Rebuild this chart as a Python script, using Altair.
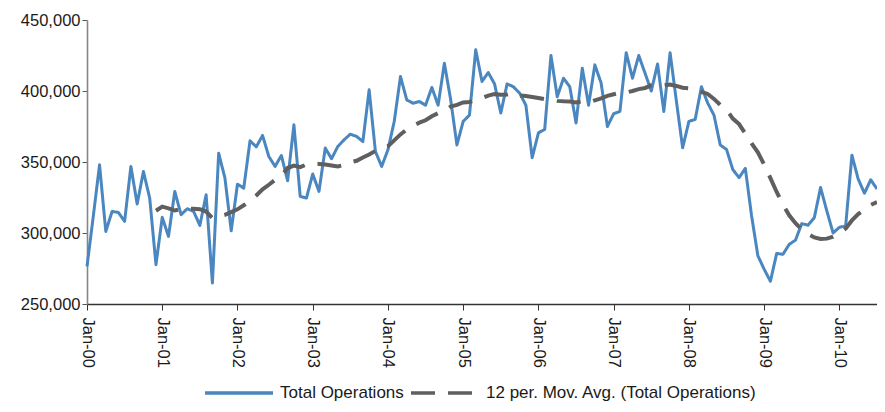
import altair as alt
import pandas as pd

# ---- data ----
month_names = ["Jan", "Feb", "Mar", "Apr", "May", "Jun",
               "Jul", "Aug", "Sep", "Oct", "Nov", "Dec"]
year_codes = ["00", "01", "02", "03", "04", "05", "06", "07", "08", "09", "10"]

ops_2000 = [276500, 311700, 348000, 301100, 315200, 314500, 308200, 346900, 320400, 343300, 324600, 277700]
ops_2001 = [311000, 297600, 329300, 312900, 317100, 315200, 305400, 326900, 264800, 356200, 338700, 301600]
ops_2002 = [334400, 331600, 364900, 360700, 368700, 353900, 346900, 354600, 336800, 376200, 325800, 324600]
ops_2003 = [341500, 329300, 359800, 352300, 360900, 365600, 369600, 368000, 364400, 400800, 357400, 346900]
ops_2004 = [358600, 378500, 410200, 393700, 391400, 392600, 390000, 402500, 390000, 419600, 394000, 362000]
ops_2005 = [378600, 383000, 429000, 406700, 413000, 405000, 384500, 405000, 403000, 398500, 390000, 353000]
ops_2006 = [370500, 373000, 425000, 396000, 409000, 403000, 377500, 416000, 390000, 418400, 405600, 375000]
ops_2007 = [384000, 385600, 427000, 409000, 425000, 412600, 400000, 419000, 385600, 427000, 393000, 360000]
ops_2008 = [378600, 380000, 403000, 391500, 383000, 362000, 358800, 344700, 339000, 345500, 312000, 284000]
ops_2009 = [274500, 266000, 285600, 285000, 292000, 295000, 306600, 305500, 310800, 332000, 315500, 300000]
ops_2010 = [304000, 305000, 354800, 338000, 328000, 337500, 331000]

total_operations = (ops_2000 + ops_2001 + ops_2002 + ops_2003 + ops_2004 + ops_2005
                    + ops_2006 + ops_2007 + ops_2008 + ops_2009 + ops_2010)
periods = [f"{m}-{y}" for y in year_codes for m in month_names][:len(total_operations)]
jan_ticks = [p for p in periods if p.startswith("Jan")]
y_ticks = [250000, 300000, 350000, 400000, 450000]

TOT = "Total Operations"
MA = "12 per. Mov. Avg. (Total Operations)"

df = pd.DataFrame({"i": list(range(len(periods))), "period": periods, "tot": total_operations})

FONT = "Liberation Sans"
FS = 16.5

legend = alt.Legend(
    title=None, orient="none", legendX=116, legendY=337, direction="horizontal",
    symbolType="stroke", symbolSize=4624, symbolStrokeWidth=3.5,
    labelFont=FONT, labelFontSize=17, labelColor="#1a1a1a", labelLimit=400,
    labelOffset=5, columnPadding=0, padding=0,
)

color = alt.Color("series:N", title=None,
                  scale=alt.Scale(domain=[TOT, MA], range=["#4A86BF", "#5F5F5F"]),
                  legend=legend)
dash = alt.StrokeDash("series:N", title=None,
                      scale=alt.Scale(domain=[TOT, MA], range=[[1, 0], [24, 13]]),
                      legend=legend)

x = alt.X("period:O", sort=periods, title=None,
          scale=alt.Scale(type="point", padding=0),
          axis=alt.Axis(values=jan_ticks, labelAngle=90, tickSize=6, labelPadding=7,
                        domainColor="#333333", tickColor="#333333", domainWidth=1.3,
                        labelFont=FONT, labelFontSize=FS, labelColor="#1a1a1a", grid=False))
y = alt.Y("val:Q", title=None,
          scale=alt.Scale(domain=[250000, 450000], nice=False, zero=False),
          axis=alt.Axis(values=y_ticks, format=",d", tickSize=5, labelPadding=2,
                        domainColor="#868686", domainWidth=1.6, tickColor="#555555",
                        labelFont=FONT, labelFontSize=FS, labelColor="#1a1a1a", grid=False))

base = alt.Chart(df).transform_window(
    ma="mean(tot)", frame=[-11, 0], sort=[alt.SortField("i")]
).transform_calculate(
    ma="datum.i >= 11 ? datum.ma : null"
).transform_fold(
    ["tot", "ma"], as_=["key", "val"]
).transform_filter(
    "isValid(datum.val)"
).transform_calculate(
    series=f"datum.key == 'tot' ? '{TOT}' : '{MA}'"
)

line_tot = base.transform_filter(f"datum.series == '{TOT}'").mark_line(
    strokeWidth=3, strokeJoin="round"
).encode(x=x, y=y, color=color, strokeDash=dash)

line_ma = base.transform_filter(f"datum.series == '{MA}'").mark_line(
    strokeWidth=4, strokeCap="butt"
).encode(x=x, y=y, color=color, strokeDash=dash)

chart = alt.layer(line_tot, line_ma).properties(
    width=790, height=284,
    autosize=alt.AutoSizeParams(type="none"),
    padding={"left": 79, "top": 12, "right": 0, "bottom": 100},
).configure(background="white").configure_view(stroke=None)

chart.save("out.html", embed_options={"renderer": "svg", "actions": False})
